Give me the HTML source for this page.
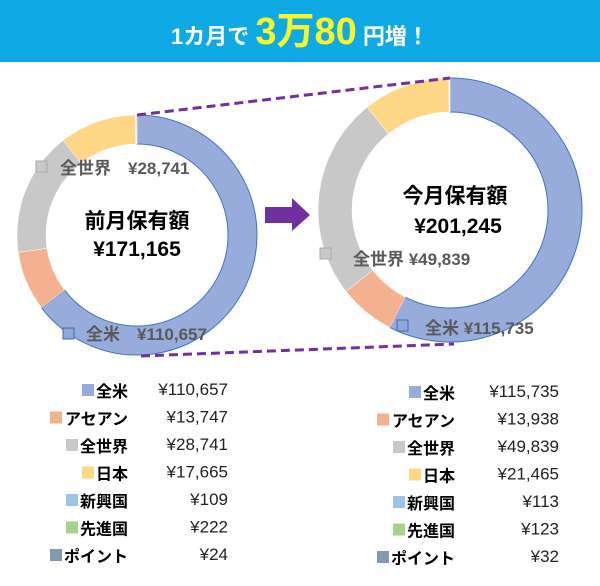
<!DOCTYPE html>
<html><head><meta charset="utf-8"><style>
body{margin:0;width:600px;height:586px;background:#fff;overflow:hidden;font-family:"Liberation Sans","Noto Sans CJK JP",sans-serif}
svg{display:block}
</style></head><body>
<svg width="600" height="586" viewBox="0 0 600 586">
<rect x="0" y="0" width="600" height="62" fill="#0fa9e6"/>
<text x="300" y="44" text-anchor="middle" fill="#fff" font-weight="bold" font-size="22">1カ月で <tspan fill="#f5f52a" font-size="38">3万80</tspan> 円増！</text>
<g id="donuts"></g>
<line x1="137" y1="115" x2="450" y2="78" stroke="#7030a0" stroke-width="3" stroke-dasharray="9,5"/>
<line x1="141" y1="356" x2="454" y2="344" stroke="#7030a0" stroke-width="3" stroke-dasharray="9,5"/>
<polygon points="265,207 292,207 292,198 310,215 292,231 292,223 265,223" fill="#7030a0"/>
<text x="137" y="228" text-anchor="middle" font-size="21" font-weight="bold" fill="#000">前月保有額</text>
<text x="137" y="256" text-anchor="middle" font-size="21" font-weight="bold" fill="#000">¥171,165</text>
<text x="455" y="203" text-anchor="middle" font-size="21" font-weight="bold" fill="#000">今月保有額</text>
<text x="458" y="233" text-anchor="middle" font-size="21" font-weight="bold" fill="#000">¥201,245</text>
<g font-size="17" font-weight="bold" fill="#595959">
<rect x="36" y="161" width="11" height="11" fill="#c8c8c8" stroke="#aaa"/>
<text x="60" y="174">全世界　¥28,741</text>
<rect x="63" y="328" width="11" height="11" fill="#8fa8dc" stroke="#4466aa"/>
<text x="86" y="340">全米　¥110,657</text>
<rect x="320" y="248" width="11" height="11" fill="#c8c8c8" stroke="#aaa"/>
<text x="353" y="265">全世界 ¥49,839</text>
<rect x="397" y="320" width="11" height="11" fill="#8fa8dc" stroke="#4466aa"/>
<text x="425" y="334">全米 ¥115,735</text>
</g>
<g id="legends"></g>
</svg>
<script>
const categories=["全米","アセアン","全世界","日本","新興国","先進国","ポイント"];
const prevValues=[110657,13747,28741,17665,109,222,24];
const currValues=[115735,13938,49839,21465,113,123,32];
const prevLabels=["¥110,657","¥13,747","¥28,741","¥17,665","¥109","¥222","¥24"];
const currLabels=["¥115,735","¥13,938","¥49,839","¥21,465","¥113","¥123","¥32"];
const colors=["#98acdc","#f4b18f","#c8c8c8","#fdd686","#9dc3e6","#a9d18e","#8497b0"];
const NS="http://www.w3.org/2000/svg";
function donut(cx,cy,ro,ri,vals,name){
  const g=document.getElementById('donuts');
  const tot=vals.reduce((a,b)=>a+b,0);let a0=0;
  vals.forEach((v,i)=>{
    const a1=a0+v/tot*2*Math.PI;
    const p=(r,a)=>[cx+r*Math.sin(a),cy-r*Math.cos(a)];
    const [x1,y1]=p(ro,a0),[x2,y2]=p(ro,a1),[x3,y3]=p(ri,a1),[x4,y4]=p(ri,a0);
    const lg=(a1-a0)>Math.PI?1:0;
    const path=document.createElementNS(NS,'path');
    path.setAttribute('d',`M${x1},${y1}A${ro},${ro} 0 ${lg} 1 ${x2},${y2}L${x3},${y3}A${ri},${ri} 0 ${lg} 0 ${x4},${y4}Z`);
    path.setAttribute('fill',colors[i]);
    path.setAttribute('stroke',i==0?'#4472c4':'#fff');
    path.setAttribute('stroke-width',i==0?'1':'0.5');
    
    
    g.appendChild(path);a0=a1;
  });
}
donut(137,235,120,91,prevValues,'prev');
donut(450,210,132,98,currValues,'curr');
function legend(xName,xVal,y0,dy,labels,name){
  const g=document.getElementById('legends');
  categories.forEach((c,i)=>{
    const y=y0+i*dy;
    const t=document.createElementNS(NS,'text');
    t.setAttribute('x',xName);t.setAttribute('y',y);t.setAttribute('text-anchor','end');
    t.setAttribute('font-size','16');t.setAttribute('font-weight','bold');t.textContent=c;
    
    
    g.appendChild(t);
    const w=c.length*16+2;
    const r=document.createElementNS(NS,'rect');
    r.setAttribute('x',xName-w-12);r.setAttribute('y',y-13);r.setAttribute('width',12);r.setAttribute('height',12);
    r.setAttribute('fill',colors[i]);
    
    
    g.appendChild(r);
    const v=document.createElementNS(NS,'text');
    v.setAttribute('x',xVal);v.setAttribute('y',y-2);v.setAttribute('text-anchor','end');
    v.setAttribute('font-size','17');v.setAttribute('fill','#222');v.textContent=labels[i];
    
    
    g.appendChild(v);
  });
}
legend(128,228,397,27.5,prevLabels,'prev');
legend(455,559,399,27.5,currLabels,'curr');
</script>
</body></html>
